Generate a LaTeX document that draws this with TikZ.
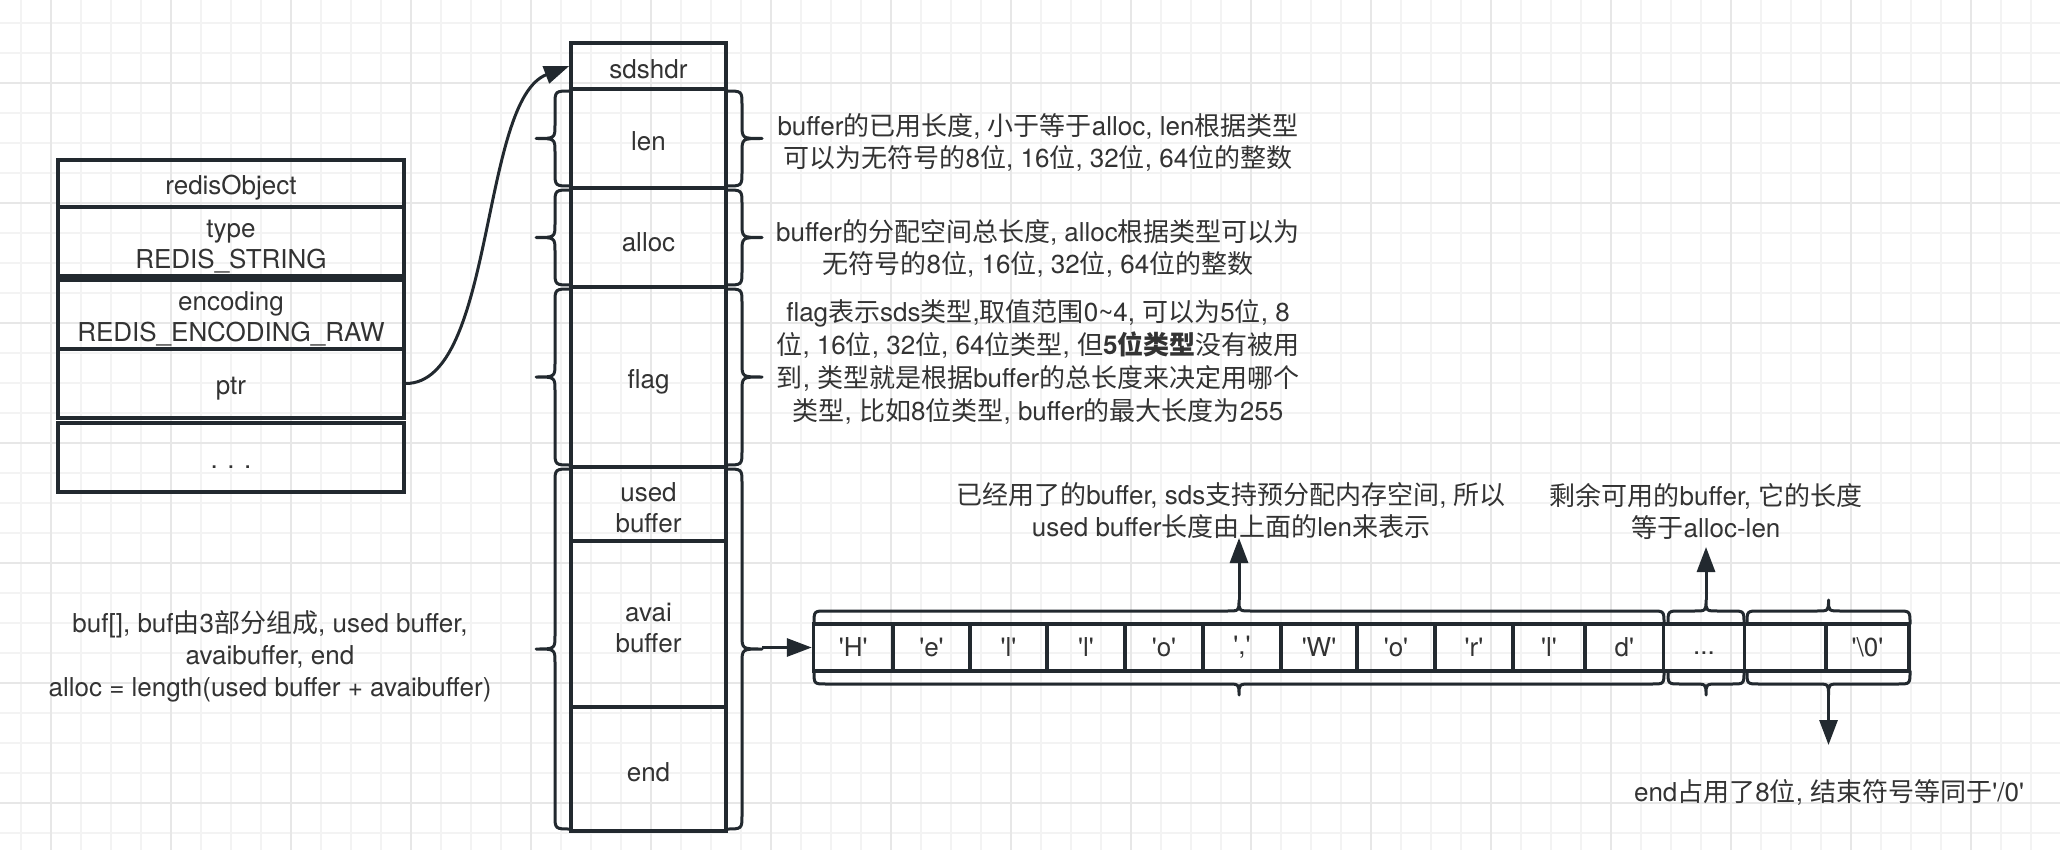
\documentclass[tikz,border=0pt]{standalone}
\usepackage{fontspec}
\newfontfamily\zhf{Noto Sans CJK SC}
\newfontfamily\lat{TeX Gyre Heros}
\newcommand\zh[1]{{\zhf #1}}
\usetikzlibrary{arrows.meta,calc}
\definecolor{ln}{RGB}{34,41,47}
\definecolor{tx}{RGB}{51,51,51}
\definecolor{gmin}{RGB}{243,243,243}
\definecolor{gmaj}{RGB}{231,231,231}
\newcommand\VBr[5]{%
  \pgfmathsetmacro\bym{(#4+#5)/2}%
  \pgfmathsetmacro\bya{#4+14}\pgfmathsetmacro\byb{\bym-14}%
  \pgfmathsetmacro\byc{\bym+14}\pgfmathsetmacro\byd{#5-14}%
  \draw[brc] (#1,#4) .. controls (#2,#4) .. (#2,\bya) -- (#2,\byb) .. controls (#2,\bym) .. (#3,\bym) .. controls (#2,\bym) .. (#2,\byc) -- (#2,\byd) .. controls (#2,#5) .. (#1,#5);}
\newcommand\HBr[5]{%
  \pgfmathsetmacro\bxm{(#1+#2)/2}%
  \pgfmathsetmacro\bxa{#1+12}\pgfmathsetmacro\bxb{\bxm-12}%
  \pgfmathsetmacro\bxc{\bxm+12}\pgfmathsetmacro\bxd{#2-12}%
  \draw[brc] (#1,#3) .. controls (#1,#4) .. (\bxa,#4) -- (\bxb,#4) .. controls (\bxm,#4) .. (\bxm,#5) .. controls (\bxm,#4) .. (\bxc,#4) -- (\bxd,#4) .. controls (#2,#4) .. (#2,#3);}
\begin{document}
\begin{tikzpicture}[x=1pt,y=-1pt,
  box/.style={draw=ln, line width=3.6pt, rectangle, inner sep=0pt},
  btxt/.style={inner sep=0pt, align=center, text=tx, font=\lat\fontsize{26}{31}\selectfont},
  cell/.style={box, minimum height=47pt, align=center, text=tx, font=\lat\fontsize{26}{31}\selectfont},
  lbl/.style={inner sep=0pt, align=center, text=tx, font=\lat\fontsize{26}{32}\selectfont},
  brc/.style={draw=ln, line width=3pt, line cap=round, line join=round},
  arr/.style={draw=ln, line width=3pt, -{Triangle[length=25pt,width=18pt]}}
]
\fill[white] (0,0) rectangle (2060,850);
\useasboundingbox (0,0) rectangle (2060,850);
% grid
\foreach \x in {21,51,...,2060} \draw[gmin, line width=2pt] (\x,0) -- (\x,850);
\foreach \y in {22.7,52.7,...,850} \draw[gmin, line width=2pt] (0,\y) -- (2060,\y);
\foreach \x in {51,171,...,2060} \draw[gmaj, line width=2pt] (\x,0) -- (\x,850);
\foreach \y in {82.7,202.7,...,850} \draw[gmaj, line width=2pt] (0,\y) -- (2060,\y);

% redisObject
\node[box, minimum width=346pt, minimum height=47pt] (ro1) at (231,183.5) {};
\node[box, minimum width=346pt, minimum height=69pt] (ro2) at (231,241.5) {};
\node[box, minimum width=346pt, minimum height=69pt] (ro3) at (231,314.5) {};
\node[box, minimum width=346pt, minimum height=69pt] (ro4) at (231,383.5) {};
\node[box, minimum width=346pt, minimum height=69pt] (ro5) at (231,457.5) {};
\node[btxt] (ro1t) at ([yshift=-4pt]ro1.center) {redisObject};
\node[btxt] (ro2t) at ([yshift=-5pt]ro2.center) {type\\REDIS\_STRING};
\node[btxt] (ro3t) at ([yshift=-4pt]ro3.center) {encoding\\REDIS\_ENCODING\_RAW};
\node[btxt] (ro4t) at ([yshift=-5pt]ro4.center) {ptr};
\node[btxt] (ro5t) at ([yshift=-4pt]ro5.center) {\vphantom{Ag}. . .};

% sdshdr column
\node[box, minimum width=155pt, minimum height=46pt] (sd0) at (648.5,66) {};
\node[box, minimum width=155pt, minimum height=99pt] (sd1) at (648.5,138.5) {};
\node[box, minimum width=155pt, minimum height=99pt] (sd2) at (648.5,237.5) {};
\node[box, minimum width=155pt, minimum height=180pt] (sd3) at (648.5,377) {};
\node[box, minimum width=155pt, minimum height=74pt] (sd4) at (648.5,504) {};
\node[box, minimum width=155pt, minimum height=166pt] (sd5) at (648.5,624) {};
\node[box, minimum width=155pt, minimum height=124pt] (sd6) at (648.5,769) {};
\node[btxt] (sd0t) at ([yshift=-3pt]sd0.center) {sdshdr};
\node[btxt] (sd1t) at ([yshift=-3pt]sd1.center) {len};
\node[btxt] (sd2t) at ([yshift=-5pt]sd2.center) {alloc};
\node[btxt] (sd3t) at ([yshift=-5pt]sd3.center) {flag};
\node[btxt] (sd4t) at ([yshift=-4pt]sd4.center) {used\\buffer};
\node[btxt] (sd5t) at ([yshift=-4pt]sd5.center) {avai\\buffer};
\node[btxt] (sd6t) at ([yshift=-3pt]sd6.center) {end};

% braces on the column
\VBr{571}{555}{536}{91}{186}
\VBr{571}{555}{536}{190}{285}
\VBr{571}{555}{536}{289}{465}
\VBr{571}{555}{536}{469}{829}
\VBr{726}{742}{762}{91}{186}
\VBr{726}{742}{762}{190}{285}
\VBr{726}{742}{762}{289}{465}
\VBr{726}{742}{762}{469}{829}
\coordinate (bufTip) at (762,647.5);

% descriptions
\node[lbl] (lenDesc) at (1038,142.5) {buffer\zh{的已用长度}, \zh{小于等于}alloc, len\zh{根据类型}\\\zh{可以为无符号的}8\zh{位}, 16\zh{位}, 32\zh{位}, 64\zh{位的整数}};
\node[lbl] (allocDesc) at (1038,248.5) {buffer\zh{的分配空间总长度}, alloc\zh{根据类型可以为}\\\zh{无符号的}8\zh{位}, 16\zh{位}, 32\zh{位}, 64\zh{位的整数}};
\node[lbl, font=\lat\fontsize{26}{33}\selectfont] (flagDesc) at (1038,362) {flag\zh{表示}sds\zh{类型},\zh{取值范围}0\textasciitilde 4, \zh{可以为}5\zh{位}, 8\\\zh{位}, 16\zh{位}, 32\zh{位}, 64\zh{位类型}, \zh{但}\textbf{5\zh{位类型}}\zh{没有被用}\\\zh{到}, \zh{类型就是根据}buffer\zh{的总长度来决定用哪个}\\\zh{类型}, \zh{比如}8\zh{位类型}, buffer\zh{的最大长度为}255};
\node[lbl] (bufDesc) at (270,656) {buf[], buf\zh{由}3\zh{部分组成}, used buffer,\\avaibuffer, end\\alloc = length(used buffer + avaibuffer)};

% character cells
\node[cell, minimum width=79.4pt] (c1) at (853.3,647.5) {'H'};
\node[cell, minimum width=77pt] (c2) at (931.5,647.5) {'e'};
\node[cell, minimum width=77pt] (c3) at (1008.5,647.5) {'l'};
\node[cell, minimum width=78pt] (c4) at (1086,647.5) {'l'};
\node[cell, minimum width=78pt] (c5) at (1164,647.5) {'o'};
\node[cell, minimum width=78pt] (c6) at (1242,647.5) {','};
\node[cell, minimum width=76pt] (c7) at (1319,647.5) {'W'};
\node[cell, minimum width=78pt] (c8) at (1396,647.5) {'o'};
\node[cell, minimum width=78pt] (c9) at (1474,647.5) {'r'};
\node[cell, minimum width=72pt] (c10) at (1549,647.5) {'l'};
\node[cell, minimum width=78.5pt] (c11) at (1624.25,647.5) {d'};
\node[cell, minimum width=81pt] (c12) at (1704,647.5) {\vphantom{Ag}...};
\node[cell, minimum width=81.5pt] (c13) at (1785.25,647.5) {};
\node[cell, minimum width=83pt] (c14) at (1867.5,647.5) {'\textbackslash 0'};

% braces on the cells
\HBr{814}{1664}{624}{611}{600}
\HBr{1668}{1744}{624}{611}{600}
\HBr{1747}{1910}{624}{611}{600}
\HBr{814}{1664}{671}{684}{695}
\HBr{1668}{1744}{671}{684}{695}
\HBr{1747}{1910}{671}{684}{695}
\coordinate (usedTip) at (1239,600);
\coordinate (availTip) at (1706,600);
\coordinate (endTip) at (1828.5,695);
\coordinate (usedUp) at (1239,538);
\coordinate (availUp) at (1706,547);
\coordinate (endDown) at (1828.5,745);

% labels near cells
\node[lbl] (usedDesc) at (1231,511) {\zh{已经用了的}buffer, sds\zh{支持预分配内存空间}, \zh{所以}\\used buffer\zh{长度由上面的}len\zh{来表示}};
\node[lbl] (availDesc) at (1706,511) {\zh{剩余可用的}buffer, \zh{它的长度}\\\zh{等于}alloc-len};
\node[lbl] (endDesc) at (1829,792) {end\zh{占用了}8\zh{位}, \zh{结束符号等同于}'/0'};

% connectors
\draw[arr] (ro4.east) .. controls (495,383.5) and (480,100) .. (sd0.west);
\draw[arr] (bufTip) -- (c1.west);
\draw[arr] (usedTip) -- (usedUp);
\draw[arr] (availTip) -- (availUp);
\draw[arr] (endTip) -- (endDown);
\end{tikzpicture}
\end{document}
